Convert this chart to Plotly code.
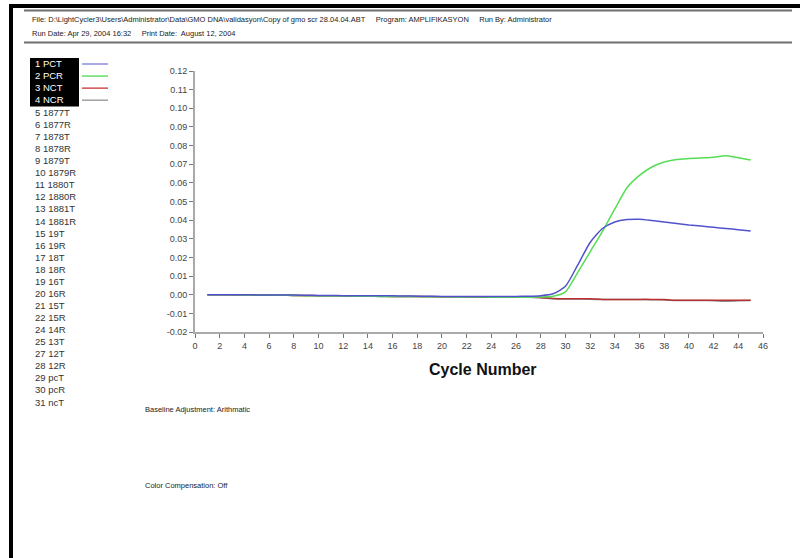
import plotly.graph_objects as go

# ---- data -------------------------------------------------------------
cycles = list(range(1, 46))

pct = [0.0, 0.0, 0.0, 0.0, -0.0001, -0.0001, -0.0002, -0.0002, -0.0003, -0.0004,
       -0.0004, -0.0005, -0.0005, -0.0006, -0.0006, -0.0006, -0.0007, -0.0008, -0.0008, -0.0009,
       -0.0009, -0.0010, -0.0010, -0.0010, -0.0010, -0.0009, -0.0008, -0.0005, 0.0005, 0.0045,
       0.0160, 0.0280, 0.0355, 0.0390, 0.0403, 0.0405, 0.0398, 0.0390, 0.0382, 0.0374,
       0.0368, 0.0362, 0.0355, 0.0349, 0.0342]

pcr = [0.0, 0.0, 0.0, -0.0001, -0.0002, -0.0002, -0.0003, -0.0004, -0.0005, -0.0006,
       -0.0007, -0.0007, -0.0008, -0.0008, -0.0009, -0.0009, -0.0010, -0.0010, -0.0011, -0.0011,
       -0.0012, -0.0012, -0.0012, -0.0013, -0.0013, -0.0013, -0.0013, -0.0012, -0.0008, 0.0015,
       0.0120, 0.0230, 0.0340, 0.0460, 0.0575, 0.0640, 0.0685, 0.0712, 0.0725, 0.0730,
       0.0734, 0.0738, 0.0745, 0.0735, 0.0722]

nct = [0.0, 0.0, 0.0, -0.0001, -0.0001, -0.0002, -0.0003, -0.0004, -0.0004, -0.0005,
       -0.0006, -0.0006, -0.0007, -0.0008, -0.0008, -0.0009, -0.0009, -0.0010, -0.0010, -0.0011,
       -0.0011, -0.0012, -0.0012, -0.0012, -0.0013, -0.0013, -0.0014, -0.0015, -0.0020, -0.0022,
       -0.0022, -0.0022, -0.0025, -0.0025, -0.0025, -0.0025, -0.0025, -0.0026, -0.0030, -0.0030,
       -0.0030, -0.0030, -0.0030, -0.0030, -0.0030]

ncr = [0.0, 0.0, -0.0001, -0.0001, -0.0002, -0.0002, -0.0003, -0.0004, -0.0005, -0.0005,
       -0.0006, -0.0007, -0.0007, -0.0008, -0.0009, -0.0009, -0.0010, -0.0010, -0.0011, -0.0011,
       -0.0012, -0.0012, -0.0013, -0.0013, -0.0013, -0.0014, -0.0014, -0.0016, -0.0021, -0.0023,
       -0.0023, -0.0024, -0.0026, -0.0026, -0.0026, -0.0026, -0.0027, -0.0028, -0.0031, -0.0031,
       -0.0031, -0.0032, -0.0035, -0.0033, -0.0031]

sample_names = ["1 PCT", "2 PCR", "3 NCT", "4 NCR", "5 1877T", "6 1877R", "7 1878T",
                "8 1878R", "9 1879T", "10 1879R", "11 1880T", "12 1880R", "13 1881T",
                "14 1881R", "15 19T", "16 19R", "17 18T", "18 18R", "19 16T", "20 16R",
                "21 15T", "22 15R", "24 14R", "25 13T", "27 12T", "28 12R", "29 pcT",
                "30 pcR", "31 ncT"]

y_ticks = [-0.02, -0.01, 0.0, 0.01, 0.02, 0.03, 0.04, 0.05, 0.06, 0.07, 0.08, 0.09, 0.10, 0.11, 0.12]
x_ticks = list(range(0, 47, 2))

header_file = ("File: D:\\LightCycler3\\Users\\Administrator\\Data\\GMO DNA\\validasyon\\Copy of gmo scr 28.04.04.ABT"
               "&nbsp;&nbsp;&nbsp;&nbsp;&nbsp;Program: AMPLIFIKASYON&nbsp;&nbsp;&nbsp;&nbsp;&nbsp;Run By: Administrator")
header_date = "Run Date: Apr 29, 2004 16:32&nbsp;&nbsp;&nbsp;&nbsp;&nbsp;Print Date:&nbsp; August 12, 2004"

# ---- page geometry (pixels) ------------------------------------------
W, H = 800, 558
PL, PR, PT, PB = 195, 763, 71, 332          # plot area edges


def fx(px):
    return (px - PL) / (PR - PL)


def fy(py):
    return (PB - py) / (PB - PT)


FONT = "Liberation Sans, Arial, sans-serif"
series = [
    ("1 PCT", pct, "#5252cc", "#8c8ce0"),
    ("2 PCR", pcr, "#55dd55", "#66dd66"),
    ("3 NCT", nct, "#b83030", "#d05050"),
    ("4 NCR", ncr, "#8c8c8c", "#a0a0a0"),
]

fig = go.Figure()
# draw order: negatives under positives
for name, vals, col, _ in [series[3], series[2], series[1], series[0]]:
    fig.add_trace(go.Scatter(x=cycles, y=vals, mode="lines", name=name,
                             line=dict(color=col, width=1.5, shape="spline", smoothing=0.6),
                             showlegend=False))

shapes = []
annotations = []

# page frame: black top bar and left bar
shapes.append(dict(type="rect", xref="paper", yref="paper", x0=fx(9), x1=fx(800), y0=fy(8), y1=fy(4),
                   fillcolor="black", line=dict(width=0), layer="above"))
shapes.append(dict(type="rect", xref="paper", yref="paper", x0=fx(9), x1=fx(13), y0=fy(558), y1=fy(4),
                   fillcolor="black", line=dict(width=0), layer="above"))
# header rules
for yy in (10.5, 42.5):
    shapes.append(dict(type="line", xref="paper", yref="paper", x0=fx(24), x1=fx(792), y0=fy(yy), y1=fy(yy),
                       line=dict(color="#6e6e6e", width=2)))

annotations.append(dict(text=header_file, xref="paper", yref="paper", x=fx(30), y=fy(20),
                        xanchor="left", yanchor="middle", showarrow=False,
                        font=dict(family=FONT, size=7.5, color="#222")))
annotations.append(dict(text=header_date, xref="paper", yref="paper", x=fx(30), y=fy(33),
                        xanchor="left", yanchor="middle", showarrow=False,
                        font=dict(family=FONT, size=7.5, color="#222")))

# sample list with highlighted (plotted) entries
shapes.append(dict(type="rect", xref="paper", yref="paper", x0=fx(30), x1=fx(79), y0=fy(106.5), y1=fy(58),
                   fillcolor="black", line=dict(width=0)))
for i, nm in enumerate(sample_names):
    yy = 63.5 + i * 12.07
    highlighted = i < len(series)
    annotations.append(dict(text=nm, xref="paper", yref="paper", x=fx(33), y=fy(yy + (0 if highlighted else 0.6)),
                            xanchor="left", yanchor="middle", showarrow=False,
                            font=dict(family=FONT, size=9.5, color="white" if highlighted else "#333")))
    if highlighted:
        swatch = series[i][3]
        shapes.append(dict(type="line", xref="paper", yref="paper", x0=fx(82), x1=fx(108),
                           y0=fy(yy + 0.5), y1=fy(yy + 0.5), line=dict(color=swatch, width=1.5)))

annotations.append(dict(text="<b>Cycle Number</b>", xref="paper", yref="paper", x=fx(483), y=fy(369),
                        xanchor="center", yanchor="middle", showarrow=False,
                        font=dict(family=FONT, size=16, color="#111")))
annotations.append(dict(text="Baseline Adjustment: Arithmatic", xref="paper", yref="paper",
                        x=fx(143), y=fy(409), xanchor="left", yanchor="middle", showarrow=False,
                        font=dict(family=FONT, size=7.5, color="#222")))
annotations.append(dict(text="Color Compensation: Off", xref="paper", yref="paper",
                        x=fx(143), y=fy(485), xanchor="left", yanchor="middle", showarrow=False,
                        font=dict(family=FONT, size=7.5, color="#222")))

fig.update_layout(
    width=W, height=H,
    margin=dict(l=PL, r=W - PR, t=PT, b=H - PB, pad=0),
    paper_bgcolor="white", plot_bgcolor="white",
    shapes=shapes, annotations=annotations,
    font=dict(family=FONT, size=9, color="#444"),
    xaxis=dict(range=[0, 46], tickvals=x_ticks, ticktext=[str(v) for v in x_ticks],
               showgrid=False, zeroline=False, showline=True, linecolor="#aaaaaa", linewidth=2,
               ticks="outside", ticklen=4, tickcolor="#777", tickwidth=1,
               tickfont=dict(family=FONT, size=9, color="#444")),
    yaxis=dict(range=[-0.02, 0.12], tickvals=y_ticks, ticktext=[f"{v:.2f}" for v in y_ticks],
               showgrid=False, zeroline=False, showline=True, linecolor="#aaaaaa", linewidth=2,
               ticks="outside", ticklen=4, tickcolor="#777", tickwidth=1,
               tickfont=dict(family=FONT, size=9, color="#444")),
)

fig.write_html("out.html")
